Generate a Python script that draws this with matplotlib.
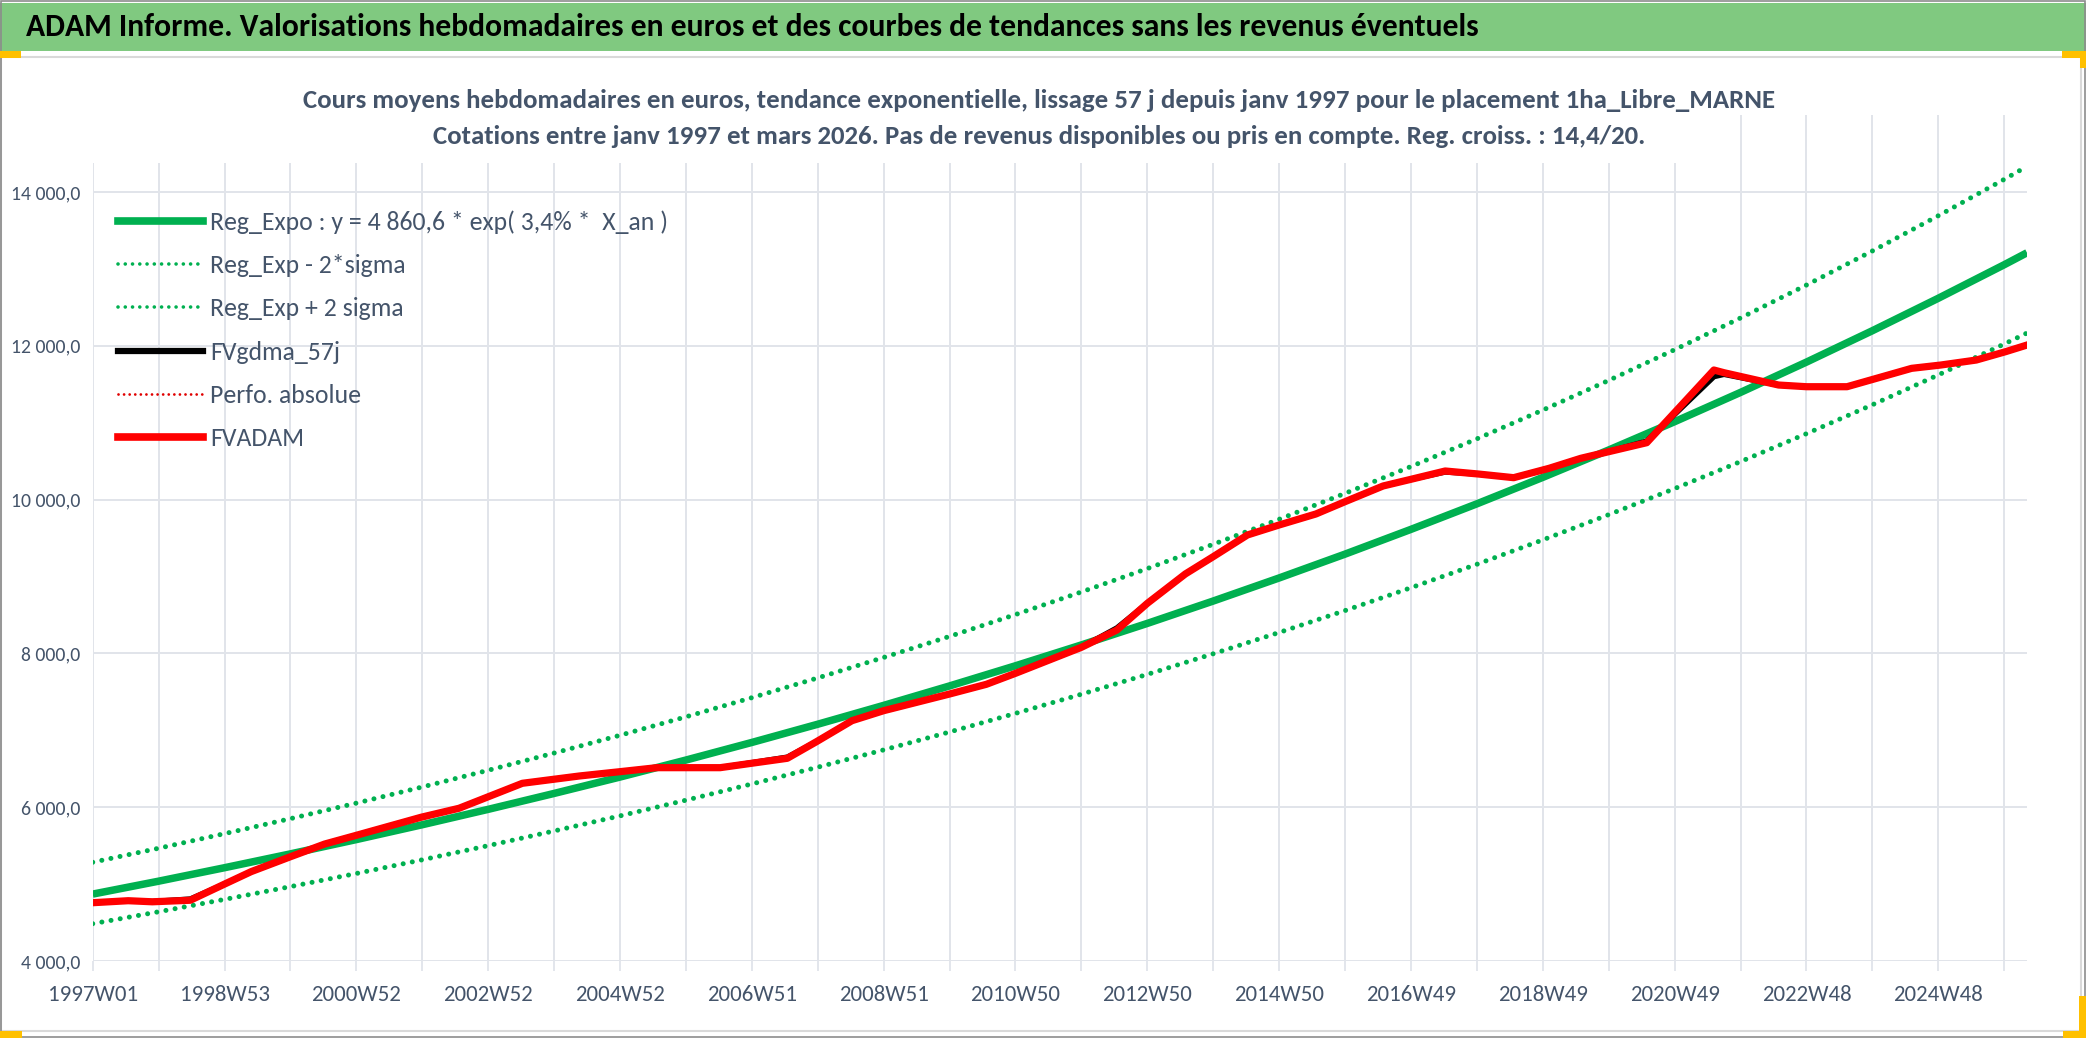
import matplotlib
matplotlib.use('Agg')
import matplotlib.pyplot as plt
from matplotlib import font_manager
from matplotlib.patches import Rectangle
from matplotlib.lines import Line2D

avail = {f.name for f in font_manager.fontManager.ttflist}
fam = next((f for f in ['Carlito', 'Liberation Sans Narrow', 'Open Sans', 'DejaVu Sans'] if f in avail), 'DejaVu Sans')
plt.rcParams['font.family'] = [fam, 'DejaVu Sans']

# ---------------- data ----------------
tick_labels = ["1997W01", "1998W53", "2000W52", "2002W52", "2004W52", "2006W51",
               "2008W51", "2010W50", "2012W50", "2014W50", "2016W49", "2018W49",
               "2020W49", "2022W48", "2024W48"]
n_weeks = 1527

trend_weeks = [0, 52, 104, 156, 208, 260, 312, 364, 416, 468, 520, 572, 624, 676, 728,
               780, 832, 884, 936, 988, 1040, 1092, 1144, 1196, 1248, 1300, 1352, 1404,
               1456, 1508, 1526]
reg_expo = [4870, 5038, 5213, 5393, 5579, 5772, 5972, 6179, 6392, 6613, 6842, 7079, 7324,
            7577, 7839, 8110, 8390, 8681, 8981, 9291, 9613, 9945, 10289, 10645, 11013,
            11394, 11788, 12196, 12618, 13054, 13210]
reg_minus = [4485, 4640, 4801, 4967, 5138, 5316, 5500, 5691, 5887, 6091, 6302, 6520, 6745,
             6978, 7220, 7469, 7727, 7995, 8272, 8557, 8854, 9159, 9476, 9804, 10143,
             10494, 10857, 11233, 11621, 12023, 12166]
reg_plus = [5284, 5466, 5656, 5851, 6053, 6263, 6480, 6704, 6935, 7175, 7424, 7681, 7947,
            8221, 8505, 8799, 9103, 9419, 9744, 10081, 10430, 10790, 11164, 11550, 11949,
            12362, 12790, 13233, 13691, 14164, 14333]

fv_weeks = [0, 28, 47, 77, 104, 125, 156, 183, 207, 259, 289, 339, 384, 416, 445, 495,
            548, 571, 599, 624, 676, 705, 728, 780, 808, 832, 862, 884, 911, 936, 965,
            988, 1018, 1040, 1067, 1093, 1121, 1149, 1174, 1196, 1226, 1279, 1287, 1330,
            1352, 1384, 1435, 1458, 1486, 1509, 1526]
fvadam = [4758, 4784, 4770, 4790, 5000, 5162, 5356, 5521, 5630, 5869, 5986, 6311, 6406,
          6462, 6514, 6514, 6636, 6852, 7125, 7255, 7472, 7598, 7741, 8079, 8304, 8651,
          9033, 9258, 9540, 9670, 9813, 9973, 10177, 10264, 10372, 10333, 10285, 10407,
          10537, 10623, 10740, 11685, 11650, 11490, 11468, 11468, 11707, 11750, 11815,
          11923, 12010]
fvgdma = [4758, 4784, 4772, 4805, 5000, 5162, 5356, 5521, 5630, 5869, 5986, 6311, 6406,
          6462, 6514, 6514, 6650, 6852, 7125, 7255, 7472, 7598, 7741, 8079, 8330, 8651,
          9033, 9258, 9540, 9670, 9813, 9973, 10177, 10264, 10360, 10333, 10285, 10407,
          10537, 10623, 10760, 11600, 11630, 11490, 11468, 11468, 11707, 11750, 11815,
          11923, 12010]

# ---------------- figure ----------------
W, H = 2086, 1038
fig = plt.figure(figsize=(W / 100, H / 100), dpi=100)
fig.patch.set_facecolor('white')

def fx(px):
    return px / W

def fy(py):
    return 1 - py / H

text_col = '#44546a'
grid_col = '#e1e4ea'
green = '#00b050'

# header band
fig.add_artist(Rectangle((0, fy(51)), 1, fy(3) - fy(51), transform=fig.transFigure,
                         facecolor='#80c980', edgecolor='none', zorder=0))
# chart box border
fig.add_artist(Rectangle((fx(0.5), fy(1031)), fx(2080), fy(57) - fy(1031), transform=fig.transFigure,
                         facecolor='none', edgecolor='#d9d9d9', lw=1.5, zorder=0))
# outer frame
fig.add_artist(Rectangle((fx(0.5), fy(1037)), fx(2084), fy(1) - fy(1037), transform=fig.transFigure,
                         facecolor='none', edgecolor='#8c8c8c', lw=1.2, zorder=5))
# orange marks
orange = '#ffc000'
for (x0, y0, x1, y1) in [(0, 51, 21, 58), (2062, 51, 2086, 58), (2080, 51, 2086, 68),
                         (0, 1031, 22, 1038), (2063, 1031, 2086, 1038), (2079, 996, 2086, 1038)]:
    fig.add_artist(Rectangle((fx(x0), fy(y1)), fx(x1 - x0), fy(y0) - fy(y1), transform=fig.transFigure,
                             facecolor=orange, edgecolor='none', zorder=6))

fig.text(fx(26), fy(27), "ADAM Informe. Valorisations hebdomadaires en euros et des courbes de tendances sans les revenus éventuels",
         fontsize=22.8, fontweight='bold', color='black', ha='left', va='center')

# axes
left, right, bottom_px, top_px = 92.7, 2027, 961, 115.1
ax = fig.add_axes([fx(left), fy(bottom_px), fx(right - left), fy(top_px) - fy(bottom_px)])
ax.set_xlim(0, n_weeks - 1)
ax.set_ylim(4000, 15000)
for s in ax.spines.values():
    s.set_visible(False)
ax.set_facecolor('none')

ax.set_yticks([4000, 6000, 8000, 10000, 12000, 14000])
ax.set_yticklabels([f"{v:,.1f}".replace(',', ' ').replace('.', ',') for v in ax.get_yticks()])
xt = list(range(0, n_weeks, 52))
ax.set_xticks(xt)
ax.set_xticklabels([tick_labels[i // 2] if i % 2 == 0 else '' for i in range(len(xt))])
ax.tick_params(axis='y', length=0, pad=9, labelsize=14.2, labelcolor=text_col)
ax.tick_params(axis='x', length=7, width=1.3, color=grid_col, pad=10, labelsize=16.5, labelcolor=text_col)
ax.grid(True, color=grid_col, lw=1.4)
ax.set_axisbelow(True)

# white box of the title covering top gridlines
fig.add_artist(Rectangle((fx(60), fy(163)), fx(1700 - 60), fy(60) - fy(163), transform=fig.transFigure,
                         facecolor='white', edgecolor='none', zorder=1))

dots = (0, (0.01, 1.85))
ax.plot(trend_weeks, reg_plus, color=green, lw=3.6, linestyle=dots, dash_capstyle='round', zorder=3)
ax.plot(trend_weeks, reg_minus, color=green, lw=3.6, linestyle=dots, dash_capstyle='round', zorder=3)
ax.plot(trend_weeks, reg_expo, color=green, lw=5.4, solid_capstyle='butt', zorder=4)
ax.plot(fv_weeks, fvgdma, color='black', lw=4.0, zorder=5)
ax.plot(fv_weeks, fvadam, color='#ff0000', lw=5.2, zorder=6, solid_joinstyle='round')

fig.text(fx(1039), fy(100), "Cours moyens hebdomadaires en euros, tendance exponentielle, lissage 57 j depuis janv 1997 pour le placement 1ha_Libre_MARNE",
         fontsize=19.4, fontweight='bold', color=text_col, ha='center', va='center', zorder=2)
fig.text(fx(1039), fy(137), "Cotations entre janv 1997 et mars 2026. Pas de revenus disponibles ou pris en compte. Reg. croiss. : 14,4/20.",
         fontsize=19.4, fontweight='bold', color=text_col, ha='center', va='center', zorder=2)

handles = [
    Line2D([], [], color=green, lw=5.5),
    Line2D([], [], color=green, lw=2.6, linestyle=(0, (0.01, 2.0)), dash_capstyle='round'),
    Line2D([], [], color=green, lw=2.6, linestyle=(0, (0.01, 2.0)), dash_capstyle='round'),
    Line2D([], [], color='black', lw=4.5),
    Line2D([], [], color='#e00000', lw=2.0, linestyle=(0, (0.01, 2.0)), dash_capstyle='round'),
    Line2D([], [], color='#ff0000', lw=5.5),
]
labels = ["Reg_Expo : y = 4 860,6 * exp( 3,4% *  X_an )", "Reg_Exp - 2*sigma", "Reg_Exp + 2 sigma",
          "FVgdma_57j", "Perfo. absolue", "FVADAM"]
leg = fig.legend(handles, labels, loc='upper left', bbox_to_anchor=(fx(118), fy(210)),
                 frameon=False, fontsize=18.5, handlelength=3.3, handletextpad=0.3,
                 labelspacing=0.79, borderpad=0, borderaxespad=0)
for t in leg.get_texts():
    t.set_color(text_col)

fig.savefig('out.png', dpi=100, facecolor='white')
